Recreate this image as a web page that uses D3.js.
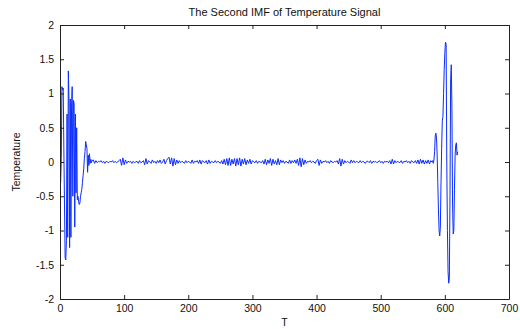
<!DOCTYPE html>
<html>
<head>
<meta charset="utf-8">
<script src="https://cdn.jsdelivr.net/npm/d3@7"></script>
<style>
  body { margin: 0; background: #fff; }
  svg text { font-family: "Liberation Sans", Arial, sans-serif; fill: #111; }
</style>
</head>
<body>
<div id="chart"></div>
<script>
// --- data ---
const chartTitle = 'The Second IMF of Temperature Signal';
const xLabel = 'T';
const yLabel = 'Temperature';
const xTicks = [0, 100, 200, 300, 400, 500, 600, 700];
const yTicks = [-2, -1.5, -1, -0.5, 0, 0.5, 1, 1.5, 2];

// T = 1..50, step 1 (start-up oscillation)
const headValues = [
  -0.30, 0.05, 1.10, 1.05, 1.08, 0.20, -0.60, -1.40, -1.43, -1.15,
  0.70, -1.10, 1.33, 0.90, -1.25, 0.92, -1.10, 0.80, 1.10, -0.50,
  0.90, 0.85, -0.95, 0.70, -0.45, 0.50, -0.55, -0.50, -0.58, -0.62,
  -0.60, -0.50, -0.45, -0.40, -0.30, -0.20, -0.10, 0.05, 0.15, 0.30,
  0.25, 0.20, -0.15, 0.10, -0.05, 0.12, -0.02, 0.04, -0.01, 0.02
];
// T = 52..580, step 2 (small residual noise)
const midValues = [
  0.03, -0.02, 0.02, -0.01, 0.01, 0.00, 0.02, -0.01, 0.01, -0.02,
  0.01, 0.00, -0.01, 0.01, 0.00, 0.02, -0.01, 0.01, -0.01, 0.00,
  0.02, 0.04, -0.05, 0.06, -0.04, 0.03, -0.02, 0.01, 0.00, 0.01,
  -0.02, 0.01, -0.01, 0.00, 0.01, -0.02, 0.02, -0.01, 0.00, 0.02,
  -0.04, 0.05, -0.03, 0.02, 0.00, -0.02, 0.03, -0.01, 0.01, -0.02,
  0.02, -0.01, 0.03, -0.02, 0.00, 0.04, -0.03, 0.02, 0.05, 0.07,
  -0.03, 0.06, -0.06, 0.05, -0.04, 0.03, -0.02, 0.02, -0.01, 0.01,
  0.00, -0.02, 0.02, -0.01, 0.01, 0.00, -0.02, 0.03, -0.02, 0.01,
  0.00, 0.02, -0.02, 0.03, -0.03, 0.02, 0.00, -0.01, 0.02, -0.03,
  0.03, -0.02, 0.01, 0.00, -0.01, 0.02, -0.01, 0.01, 0.00, -0.02,
  0.02, -0.03, 0.04, -0.04, 0.05, -0.05, 0.06, -0.05, 0.04, -0.03,
  0.05, -0.06, 0.05, -0.04, 0.06, -0.06, 0.04, -0.03, 0.05, -0.04,
  0.03, -0.02, 0.04, -0.03, 0.02, 0.00, -0.01, 0.02, -0.02, 0.01,
  0.00, -0.01, 0.02, -0.03, 0.04, -0.04, 0.03, -0.02, 0.05, -0.05,
  0.04, -0.03, 0.02, -0.04, 0.05, -0.04, 0.03, -0.01, 0.02, -0.02,
  0.01, 0.00, -0.02, 0.03, -0.02, 0.02, -0.01, 0.03, -0.02, 0.04,
  -0.05, 0.06, -0.07, 0.05, -0.04, 0.03, -0.02, 0.01, 0.00, 0.02,
  -0.01, 0.01, 0.00, -0.02, 0.02, 0.04, -0.05, 0.03, -0.02, 0.01,
  0.00, 0.02, -0.01, 0.01, -0.02, 0.02, 0.00, -0.01, 0.01, 0.00,
  0.02, -0.03, 0.05, -0.06, 0.04, -0.03, 0.02, -0.01, 0.01, 0.00,
  -0.02, 0.03, -0.01, 0.02, -0.01, 0.01, 0.00, -0.01, 0.02, -0.01,
  0.01, 0.00, -0.02, 0.01, 0.01, -0.01, 0.02, -0.02, 0.01, 0.00,
  0.01, -0.01, 0.00, 0.02, -0.01, 0.01, -0.02, 0.01, 0.00, 0.01,
  -0.01, 0.02, -0.03, 0.04, -0.03, 0.02, -0.01, 0.01, 0.00, -0.01,
  0.02, -0.02, 0.01, 0.00, 0.02, -0.01, 0.01, -0.02, 0.02, 0.00,
  -0.01, 0.02, -0.02, 0.03, -0.03, 0.04, -0.02, 0.03, -0.03, 0.02,
  -0.02, 0.03, -0.03, 0.02, 0.00
];
// T = 581..620, step 1 (end burst)
const tailValues = [
  0.02, -0.02, 0.03, 0.15, 0.38, 0.42, 0.35, 0.10, -0.30, -0.70,
  -1.00, -1.08, -0.95, -0.30, 0.20, 0.60, 0.66, 1.00, 1.35, 1.60,
  1.75, 1.72, 0.00, -1.00, -1.60, -1.77, -1.70, -0.50, 1.20, 1.42,
  0.80, -0.60, -1.05, -1.00, -0.40, 0.10, 0.25, 0.28, 0.10, 0.15
];

const segments = [
  { t0: 1, step: 1, values: headValues },
  { t0: 52, step: 2, values: midValues },
  { t0: 581, step: 1, values: tailValues }
];

const points = [];
segments.forEach(function (s) {
  s.values.forEach(function (v, i) {
    points.push({ t: s.t0 + i * s.step, v: v });
  });
});

// --- layout ---
const W = 520, H = 329;
const margin = { top: 25, right: 11, bottom: 30, left: 60 };
const width = W - margin.left - margin.right;
const height = H - margin.top - margin.bottom;
const tick = 4;

const x = d3.scaleLinear().domain([0, 700]).range([0, width]);
const y = d3.scaleLinear().domain([-2, 2]).range([height, 0]);

const svg = d3.select('#chart').append('svg')
  .attr('width', W)
  .attr('height', H);

const g = svg.append('g')
  .attr('transform', 'translate(' + margin.left + ',' + margin.top + ')');

// signal line
g.append('path')
  .datum(points)
  .attr('fill', 'none')
  .attr('stroke', '#0a2cff')
  .attr('stroke-width', 1)
  .attr('d', d3.line()
    .x(function (d) { return x(d.t); })
    .y(function (d) { return y(d.v); }));

// axes (MATLAB style: inward ticks on all four sides)
function styleAxis(sel) {
  sel.selectAll('path.domain').attr('stroke', '#222');
  sel.selectAll('.tick line').attr('stroke', '#222');
  sel.selectAll('.tick text')
    .attr('font-size', 10.5)
    .attr('fill', '#111')
    .style('font-family', '"Liberation Sans", Arial, sans-serif');
}

const fmt = function (d) { return String(d); };

g.append('g')
  .attr('transform', 'translate(0,' + height + ')')
  .call(d3.axisBottom(x).tickValues(xTicks).tickFormat(fmt).tickSizeInner(-tick).tickSizeOuter(0).tickPadding(6))
  .call(styleAxis);

g.append('g')
  .call(d3.axisTop(x).tickValues(xTicks).tickFormat('').tickSizeInner(-tick).tickSizeOuter(0))
  .call(styleAxis);

g.append('g')
  .call(d3.axisLeft(y).tickValues(yTicks).tickFormat(fmt).tickSizeInner(-tick).tickSizeOuter(0).tickPadding(6))
  .call(styleAxis);

g.append('g')
  .attr('transform', 'translate(' + width + ',0)')
  .call(d3.axisRight(y).tickValues(yTicks).tickFormat('').tickSizeInner(-tick).tickSizeOuter(0))
  .call(styleAxis);

// title and labels
svg.append('text')
  .attr('x', margin.left + width / 2)
  .attr('y', 16)
  .attr('text-anchor', 'middle')
  .attr('font-size', 11)
  .text(chartTitle);

svg.append('text')
  .attr('x', margin.left + width / 2)
  .attr('y', H - 3)
  .attr('text-anchor', 'middle')
  .attr('font-size', 10.5)
  .text(xLabel);

svg.append('text')
  .attr('transform', 'translate(20,' + (margin.top + height / 2) + ') rotate(-90)')
  .attr('text-anchor', 'middle')
  .attr('font-size', 10.5)
  .text(yLabel);
</script>
</body>
</html>
